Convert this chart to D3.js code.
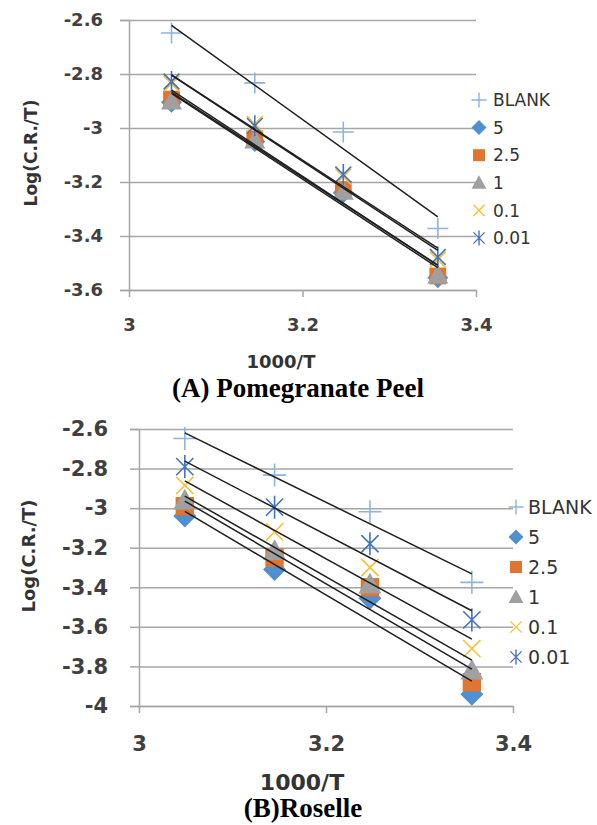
<!DOCTYPE html>
<html>
<head>
<meta charset="utf-8">
<script src="https://cdn.jsdelivr.net/npm/d3@7"></script>
<style>
  body { margin: 0; background: #fff; }
  text { font-family: "DejaVu Sans", sans-serif; }
</style>
</head>
<body>
<svg id="chart" width="597" height="825"></svg>
<script>
// 1000/T values (x)
const temps = [3.049, 3.145, 3.247, 3.356];
const seriesNames = ["BLANK", "5", "2.5", "1", "0.1", "0.01"];
const xTicks = [3, 3.2, 3.4];

// (A) Pomegranate Peel, Log(C.R./T)
const peelBlank = [-2.648, -2.833, -3.015, -3.372];
const peel5 = [-2.905, -3.05, -3.24, -3.555];
const peel25 = [-2.893, -3.04, -3.228, -3.548];
const peel1 = [-2.9, -3.045, -3.235, -3.545];
const peel01 = [-2.835, -2.985, -3.18, -3.488];
const peel001 = [-2.828, -2.992, -3.172, -3.478];
const peelTicks = [-2.6, -2.8, -3, -3.2, -3.4, -3.6];

// (B) Roselle
const roseBlank = [-2.648, -2.833, -3.018, -3.375];
const rose5 = [-3.04, -3.31, -3.455, -3.94];
const rose25 = [-2.99, -3.25, -3.4, -3.88];
const rose1 = [-2.96, -3.215, -3.385, -3.82];
const rose01 = [-2.885, -3.12, -3.3, -3.71];
const rose001 = [-2.79, -2.995, -3.18, -3.565];
const roseTicks = [-2.6, -2.8, -3, -3.2, -3.4, -3.6, -3.8, -4];

// marker shapes (Excel style)
const plusSym = { draw(c, s) { const r = Math.sqrt(s) / 2; c.moveTo(-r, 0); c.lineTo(r, 0); c.moveTo(0, -r); c.lineTo(0, r); } };
const xSym = { draw(c, s) { const r = Math.sqrt(s) / 2 * 0.75; c.moveTo(-r, -r); c.lineTo(r, r); c.moveTo(-r, r); c.lineTo(r, -r); } };
const starSym = { draw(c, s) { xSym.draw(c, s); const r = Math.sqrt(s) / 2; c.moveTo(0, -r); c.lineTo(0, r); } };
const diamondSym = { draw(c, s) { const r = Math.sqrt(s) / 2; c.moveTo(0, -r); c.lineTo(r, 0); c.lineTo(0, r); c.lineTo(-r, 0); c.closePath(); } };
const squareSym = { draw(c, s) { const r = Math.sqrt(s) / 2 * 0.8; c.rect(-r, -r, 2 * r, 2 * r); } };
const triSym = { draw(c, s) { const r = Math.sqrt(s) / 2; c.moveTo(0, -r); c.lineTo(r, r * 0.8); c.lineTo(-r, r * 0.8); c.closePath(); } };

const styles = [
  { sym: plusSym, color: "#8DB4E2", fill: false },
  { sym: diamondSym, color: "#5090D0", fill: true },
  { sym: squareSym, color: "#E07530", fill: true },
  { sym: triSym, color: "#A0A0A0", fill: true },
  { sym: xSym, color: "#F8C030", fill: false },
  { sym: starSym, color: "#4472C4", fill: false },
];

const svg = d3.select("#chart");
svg.append("rect").attr("width", 597).attr("height", 825).attr("fill", "#fff");

function regress(xs, ys) {
  const mx = d3.mean(xs), my = d3.mean(ys);
  const sxy = d3.sum(xs, (x, i) => (x - mx) * (ys[i] - my));
  const sxx = d3.sum(xs, (x) => (x - mx) ** 2);
  const b = sxy / sxx;
  return (x) => my + b * (x - mx);
}

function drawPanel(cfg, data, yTicks) {
  const g = svg.append("g");
  const x = d3.scaleLinear().domain([3, 3.4]).range([cfg.x0, cfg.x1]);
  const y = d3.scaleLinear().domain(d3.extent(yTicks)).range([cfg.yBot, cfg.yTop]);
  const fmt = (d) => String(+d.toFixed(1));

  // gridlines
  g.append("g")
    .attr("transform", `translate(${cfg.x0},0)`)
    .call(d3.axisLeft(y).tickValues(yTicks).tickSize(-(cfg.x1 - cfg.x0)).tickFormat(""))
    .call((a) => a.select(".domain").remove())
    .call((a) => a.selectAll("line").attr("stroke", "#A6A6A6").attr("stroke-width", 1.5));

  // y axis
  const ya = g.append("g")
    .attr("transform", `translate(${cfg.x0},0)`)
    .call(d3.axisLeft(y).tickValues(yTicks).tickSize(9).tickPadding(cfg.yPad).tickFormat(fmt));
  ya.select(".domain").attr("stroke", "#A6A6A6").attr("stroke-width", 1.5);
  ya.selectAll("line").attr("stroke", "#A6A6A6").attr("stroke-width", 1.5);
  ya.selectAll("text").attr("fill", "#404040").style("font-size", cfg.tickFont + "px")
    .style("font-weight", "bold").style("font-family", "DejaVu Sans");

  // x axis
  const xa = g.append("g")
    .attr("transform", `translate(0,${cfg.yBot})`)
    .call(d3.axisBottom(x).tickValues(xTicks).tickSize(7).tickSizeOuter(0).tickFormat(fmt));
  xa.select(".domain").attr("stroke", "#A6A6A6").attr("stroke-width", 1.5);
  xa.selectAll("line").attr("stroke", "#A6A6A6").attr("stroke-width", 1.5);
  xa.selectAll("text").attr("fill", "#404040").attr("y", cfg.xTickOff).attr("dy", "0.36em")
    .style("font-size", cfg.tickFont + "px").style("font-weight", "bold").style("font-family", "DejaVu Sans");

  // markers
  data.forEach((vals, si) => {
    const st = styles[si];
    const sym = d3.symbol().type(st.sym).size(cfg.markSize ** 2);
    g.append("g").selectAll("path")
      .data(vals)
      .join("path")
      .attr("transform", (d, i) => `translate(${x(temps[i])},${y(d)})`)
      .attr("d", sym)
      .attr("fill", st.fill ? st.color : "none")
      .attr("stroke", st.color)
      .attr("stroke-width", st.fill ? 0 : 1.6);
  });

  // linear trendlines
  const line = d3.line().x((d) => x(d[0])).y((d) => y(d[1]));
  data.forEach((vals) => {
    const f = regress(temps, vals);
    const ends = [temps[0], temps[temps.length - 1]].map((t) => [t, f(t)]);
    g.append("path").attr("d", line(ends)).attr("fill", "none")
      .attr("stroke", "#1e1e1e").attr("stroke-width", 1.5);
  });

  // legend
  const lg = g.append("g");
  seriesNames.forEach((name, i) => {
    const st = styles[i];
    const ly = cfg.legY + i * cfg.legDy;
    lg.append("path")
      .attr("transform", `translate(${cfg.legX},${ly})`)
      .attr("d", d3.symbol().type(st.sym).size(cfg.legMark ** 2))
      .attr("fill", st.fill ? st.color : "none")
      .attr("stroke", st.color)
      .attr("stroke-width", st.fill ? 0 : 1.4);
    lg.append("text").attr("x", cfg.legX + cfg.legGap).attr("y", ly).attr("dy", "0.36em")
      .attr("fill", "#333").style("font-size", cfg.legFont + "px").text(name);
  });

  // axis titles
  g.append("text")
    .attr("transform", `translate(${cfg.yLabX},${cfg.yLabY}) rotate(-90)`)
    .attr("text-anchor", "middle").attr("fill", "#333")
    .style("font-size", cfg.yLabFont + "px").style("font-weight", "bold")
    .text("Log(C.R./T)");
  g.append("text")
    .attr("x", cfg.xLabX).attr("y", cfg.xLabY).attr("dy", "0.36em")
    .attr("text-anchor", "middle").attr("fill", "#333")
    .style("font-size", cfg.xLabFont + "px").style("font-weight", "bold")
    .text("1000/T");
  g.append("text")
    .attr("x", cfg.titleX).attr("y", cfg.titleY).attr("dy", "0.35em")
    .attr("text-anchor", "middle").attr("fill", "#000")
    .style("font-family", "Liberation Serif").style("font-size", "27px").style("font-weight", "bold")
    .text(cfg.title);
}

drawPanel({
  x0: 129, x1: 476, yTop: 20, yBot: 290, yPad: 17, tickFont: 18, xTickOff: 35,
  markSize: 21, legX: 479, legGap: 14, legY: 100, legDy: 27.6, legMark: 15, legFont: 17,
  yLabX: 37, yLabY: 153, yLabFont: 17, xLabX: 281, xLabY: 362, xLabFont: 18,
  titleX: 298, titleY: 388, title: "(A) Pomegranate Peel",
}, [peelBlank, peel5, peel25, peel1, peel01, peel001], peelTicks);

drawPanel({
  x0: 139, x1: 513, yTop: 429, yBot: 706, yPad: 22, tickFont: 21, xTickOff: 37,
  markSize: 23, legX: 516, legGap: 12, legY: 507, legDy: 30, legMark: 15, legFont: 19,
  yLabX: 35, yLabY: 556, yLabFont: 18, xLabX: 302, xLabY: 782, xLabFont: 22,
  titleX: 303, titleY: 808, title: "(B)Roselle",
}, [roseBlank, rose5, rose25, rose1, rose01, rose001], roseTicks);
</script>
</body>
</html>
